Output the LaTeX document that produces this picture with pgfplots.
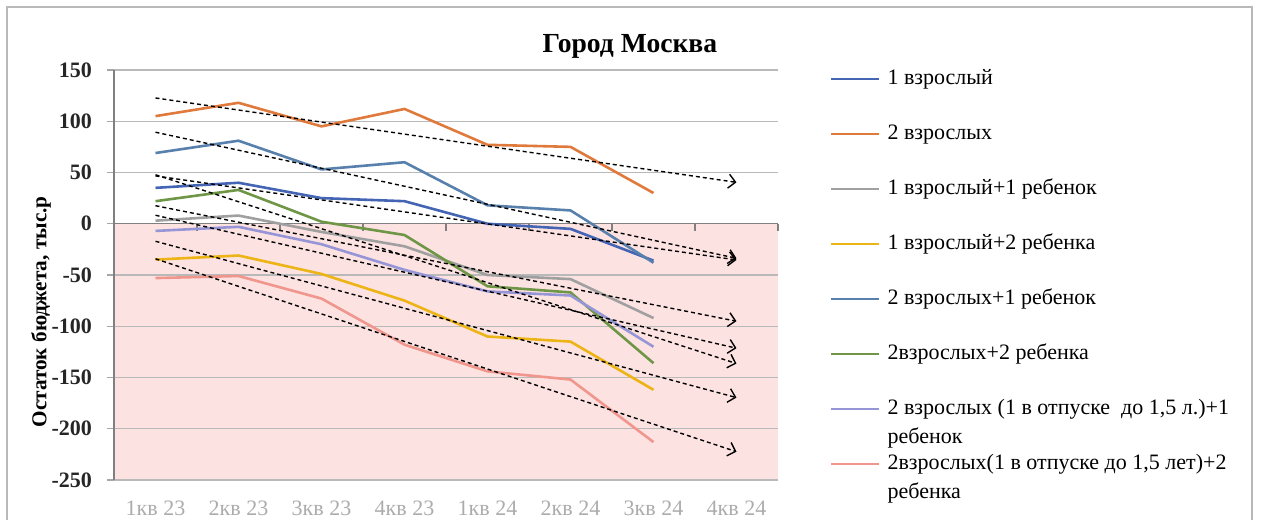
\documentclass[border=0pt]{standalone}
\usepackage{fontspec}
\setmainfont{Liberation Serif}
\usepackage{pgfplots}
\pgfplotsset{compat=1.18}
\usetikzlibrary{arrows.meta}

\definecolor{cOne}{RGB}{68,100,180}
\definecolor{cTwo}{RGB}{224,122,60}
\definecolor{cThree}{RGB}{160,160,160}
\definecolor{cFour}{RGB}{236,180,20}
\definecolor{cFive}{RGB}{88,128,172}
\definecolor{cSix}{RGB}{110,150,70}
\definecolor{cSeven}{RGB}{150,150,215}
\definecolor{cEight}{RGB}{240,150,140}
\definecolor{pinkbg}{RGB}{253,226,226}

\newcommand{\fs}{\fontsize{11bp}{13bp}\selectfont}

\begin{document}
\begin{tikzpicture}
\draw[gray!55, line width=0.6bp] (-53.5bp,-40bp) rectangle (569bp,236.5bp);
\begin{axis}[
    set layers,
    at={(0,0)}, anchor=south west,
    scale only axis, width=332bp, height=205bp,
    xmin=0.5, xmax=8.5, ymin=-250, ymax=150,
    xtick={1,...,8},
    xticklabels={1кв 23,2кв 23,3кв 23,4кв 23,1кв 24,2кв 24,3кв 24,4кв 24},
    ytick={-250,-200,...,150},
    ymajorgrids, grid style={gray!55, line width=0.6bp},
    axis line style={draw=none},
    tick align=outside, ytick pos=left,
    major tick length=3.5bp,
    ytick style={gray!70, line width=0.6bp},
    xtick style={draw=none},
    /pgf/number format/assume math mode=true,
    yticklabel style={font=\fs\bfseries, black!85, xshift=-4bp},
    xticklabel style={font=\fs, gray!65, yshift=-3.5bp},
    title={Город Москва},
    title style={at={(0.777,1.066)}, anchor=center, yshift=-7.5bp, font=\fontsize{13.8bp}{16bp}\selectfont\bfseries},
    ylabel={Остаток бюджета, тыс.р},
    ylabel style={at={(axis description cs:-0.11,0.41)}, anchor=center, font=\fontsize{10.6bp}{12bp}\selectfont\bfseries},
    legend image code/.code={\draw[#1] (0bp,0bp) -- (24bp,0bp);},
    legend style={at={(1,1)}, anchor=north west, xshift=26bp, yshift=0bp,
        draw=none, fill=none, inner sep=0pt, outer sep=0pt,
        row sep=18.5bp, column sep=3.5bp,
        nodes={inner sep=0pt, text height=7bp, text depth=2bp, font=\fs},
        cells={anchor=west}},
    every axis plot/.append style={line width=1.3bp, line join=round},
    trend/.style={black, line width=0.7bp, dash pattern=on 2bp off 1.5bp,
        -{Straight Barb[length=3.5bp,width=7bp]}},
]
\begin{pgfonlayer}{axis background}
\fill[pinkbg] (axis cs:0.5,-250) rectangle (axis cs:8.5,0);
\end{pgfonlayer}
\begin{pgfonlayer}{axis lines}
\draw[gray, line width=0.7bp] (axis cs:0.5,-250) -- (axis cs:0.5,150);
\draw[gray, line width=0.7bp] (axis cs:0.5,0) -- (axis cs:8.5,0);
\draw[gray, line width=0.6bp]
    (axis cs:1.5,0) -- (axis cs:1.5,-7.5) (axis cs:2.5,0) -- (axis cs:2.5,-7.5)
    (axis cs:3.5,0) -- (axis cs:3.5,-7.5) (axis cs:4.5,0) -- (axis cs:4.5,-7.5)
    (axis cs:5.5,0) -- (axis cs:5.5,-7.5) (axis cs:6.5,0) -- (axis cs:6.5,-7.5)
    (axis cs:7.5,0) -- (axis cs:7.5,-7.5) (axis cs:8.5,0) -- (axis cs:8.5,-7.5);
\end{pgfonlayer}

% series
\addplot[cOne] coordinates {(1,35) (2,40) (3,25) (4,22) (5,0) (6,-5) (7,-36)};
\addlegendentry{1 взрослый}
\addplot[cTwo] coordinates {(1,105) (2,118) (3,95) (4,112) (5,77) (6,75) (7,30)};
\addlegendentry{2 взрослых}
\addplot[cThree] coordinates {(1,3) (2,8) (3,-8) (4,-22) (5,-50) (6,-54) (7,-92)};
\addlegendentry{1 взрослый+1 ребенок}
\addplot[cFour] coordinates {(1,-35) (2,-31) (3,-49) (4,-75) (5,-110) (6,-115) (7,-162)};
\addlegendentry{1 взрослый+2 ребенка}
\addplot[cFive] coordinates {(1,69) (2,81) (3,53) (4,60) (5,18) (6,13) (7,-38)};
\addlegendentry{2 взрослых+1 ребенок}
\addplot[cSix] coordinates {(1,22) (2,33) (3,2) (4,-11) (5,-61) (6,-67) (7,-136)};
\addlegendentry{2взрослых+2 ребенка}
\addplot[cSeven] coordinates {(1,-7) (2,-3) (3,-20) (4,-45) (5,-66) (6,-70) (7,-120)};
\addlegendentry{\makebox[0pt][l]{\smash{\raisebox{-14.5bp}{ребенок}}}2 взрослых (1 в отпуске\ \ до 1,5 л.)+1}
\addplot[cEight] coordinates {(1,-53) (2,-51) (3,-73) (4,-118) (5,-144) (6,-152) (7,-213)};
\addlegendentry{\makebox[0pt][l]{\smash{\raisebox{-14.5bp}{ребенка}}}2взрослых(1 в отпуске до 1,5 лет)+2}

% linear trends, one period ahead
\addplot[trend, forget plot] coordinates {(1,46.7) (8,-35.3)};
\addplot[trend, forget plot] coordinates {(1,122.7) (8,40.4)};
\addplot[trend, forget plot] coordinates {(1,17.6) (8,-95.1)};
\addplot[trend, forget plot] coordinates {(1,-17.1) (8,-169.6)};
\addplot[trend, forget plot] coordinates {(1,89.3) (8,-33.7)};
\addplot[trend, forget plot] coordinates {(1,47.8) (8,-136.4)};
\addplot[trend, forget plot] coordinates {(1,8.3) (8,-121.4)};
\addplot[trend, forget plot] coordinates {(1,-34.2) (8,-222.4)};
\end{axis}
\pgfresetboundingbox
\path[use as bounding box] (-57bp,-20bp) rectangle (575bp,240bp);
\end{tikzpicture}
\end{document}
